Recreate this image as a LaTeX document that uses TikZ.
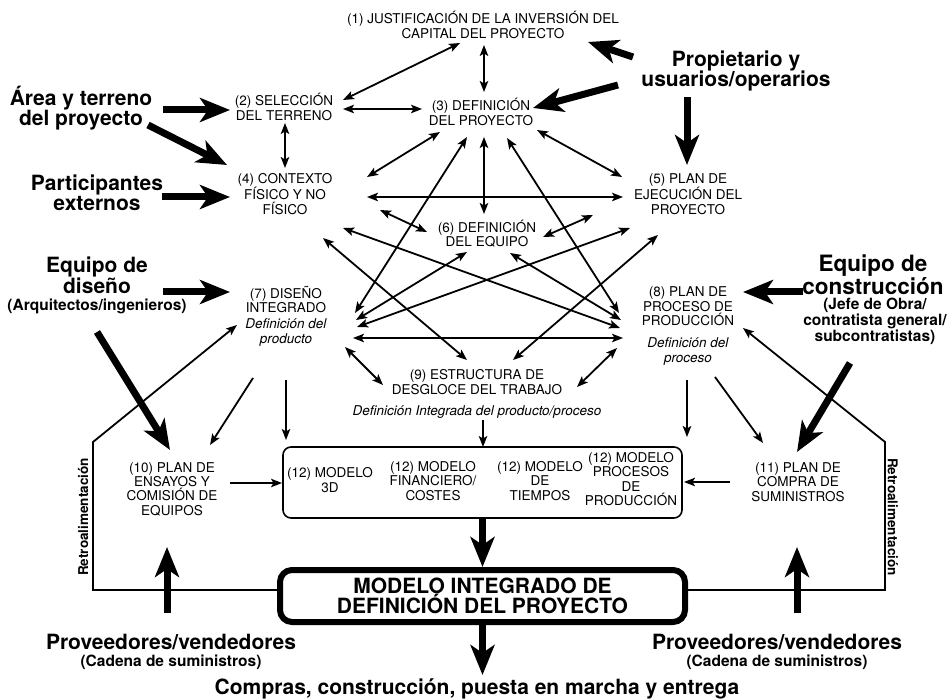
\documentclass[tikz,border=0pt]{standalone}
\usepackage{fontspec}
\setmainfont{TeX Gyre Heros}
\usetikzlibrary{arrows.meta}
\begin{document}
\begin{tikzpicture}[x=1pt,y=-1pt,
  >={Stealth[length=11pt,width=8.5pt,inset=2.5pt]},
  txt/.style={font=\fontsize{13.5}{14.3}\selectfont, align=center, inner sep=0pt},
  bigl/.style={font=\bfseries\fontsize{21}{20.5}\selectfont, align=center, inner sep=0pt},
  smalll/.style={font=\bfseries\fontsize{15.5}{15}\selectfont, align=center, inner sep=0pt},
  retro/.style={font=\bfseries\fontsize{13.5}{14}\selectfont, inner sep=0pt},
  link/.style={line width=1.8pt, <->},
  flow/.style={line width=1.8pt, ->},
  heavy/.style={line width=7pt, -{Stealth[length=30pt,width=24pt,inset=8pt]}},
]
\useasboundingbox[fill=white] (0,0) rectangle (952,700);

% ---------- boxes ----------
\node[draw, line width=1.6pt, rounded corners=8pt, minimum width=399pt, minimum height=71pt, inner sep=0pt] (box12) at (482.5,482.5) {};
\node[draw, line width=6pt, rounded corners=12pt, minimum width=405pt, minimum height=52pt, fill=white, align=center, inner sep=0pt,
      font=\bfseries\fontsize{21}{20.5}\selectfont] (mi) at (482.5,596) {MODELO INTEGRADO DE\\DEFINICIÓN DEL PROYECTO};

% ---------- process nodes ----------
\node[txt] (n1) at (483,25) {(1) JUSTIFICACIÓN DE LA INVERSIÓN DEL\\CAPITAL DEL PROYECTO};
\node[txt] (n2) at (284,107) {(2) SELECCIÓN\\DEL TERRENO};
\node[txt] (n3) at (481,112) {(3) DEFINICIÓN\\DEL PROYECTO};
\node[txt] (n4) at (285,194) {(4) CONTEXTO\\FÍSICO Y NO\\FÍSICO};
\node[txt] (n5) at (688,194) {(5) PLAN DE\\EJECUCIÓN DEL\\PROYECTO};
\node[txt] (n6) at (487,234) {(6) DEFINICIÓN\\DEL EQUIPO};
\node[txt] (n7) at (286,316) {(7) DISEÑO\\INTEGRADO\\[2pt]\textit{Definición del}\\\textit{producto}};
\node[txt] (n8) at (688,326) {(8) PLAN DE\\PROCESO DE\\PRODUCCIÓN\\[8pt]\textit{Definición del}\\\textit{proceso}};
\node[txt] (n9) at (477,394) {(9) ESTRUCTURA DE\\DESGLOCE DEL TRABAJO\\[7pt]\textit{Definición Integrada del producto/proceso}};
\node[txt] (n10) at (172,489) {(10) PLAN DE\\ENSAYOS Y\\COMISIÓN DE\\EQUIPOS};
\node[txt] (n11) at (798,482) {(11) PLAN DE\\COMPRA DE\\SUMINISTROS};
\node[txt] (m1) at (330,480) {(12) MODELO\\3D};
\node[txt] (m2) at (433,481) {(12) MODELO\\FINANCIERO/\\COSTES};
\node[txt] (m3) at (540,481) {(12) MODELO\\DE\\TIEMPOS};
\node[txt] (m4) at (631,479) {(12) MODELO\\PROCESOS\\DE\\PRODUCCIÓN};

% ---------- actors ----------
\node[bigl] (area) at (81,108) {Área y terreno\\del proyecto};
\node[bigl] (part) at (97,193) {Participantes\\externos};
\node[bigl] (prop) at (736,71) {Propietario y\\usuarios/operarios};
\node[bigl] (eqd) at (97,275.5) {Equipo de\\diseño};
\node[smalll] (eqds) at (97,306.5) {(Arquitectos/ingenieros)};
\node[bigl, font=\bfseries\fontsize{22.5}{20.5}\selectfont] (eqc) at (873,275) {Equipo de\\construcción};
\node[smalll, font=\bfseries\fontsize{15.5}{14.6}\selectfont] (eqcs) at (875,321.5) {(Jefe de Obra/\\contratista general/\\subcontratistas)};
\node[bigl] (provl) at (171,641.5) {Proveedores/vendedores};
\node[smalll] (provls) at (171,662) {(Cadena de suministros)};
\node[bigl] (provr) at (777,641.5) {Proveedores/vendedores};
\node[smalll] (provrs) at (777,662) {(Cadena de suministros)};
\node[bigl] (compras) at (477,689) {Compras, construcción, puesta en marcha y entrega};
\node[retro, rotate=90] (retl) at (83,517) {Retroalimentación};
\node[retro, rotate=-90] (retr) at (893,517) {Retroalimentación};

% ---------- connector end points ----------
\coordinate (a1s) at (460,43);  \coordinate (a1e) at (343,100);
\coordinate (a2s) at (484,45);  \coordinate (a2e) at (484,92);
\coordinate (a3s) at (343,109); \coordinate (a3e) at (422,109);
\coordinate (a4s) at (285,123); \coordinate (a4e) at (285,168);
\coordinate (a5s) at (367,177); \coordinate (a5e) at (440,132);
\coordinate (a6s) at (537,130); \coordinate (a6e) at (622,177);
\coordinate (a7s) at (367,197); \coordinate (a7e) at (623,197);
\coordinate (a8s) at (484,137); \coordinate (a8e) at (484,214);
\coordinate (a9s) at (380,210); \coordinate (a9e) at (427,232);
\coordinate (a10s) at (543,237); \coordinate (a10e) at (593,215);
\coordinate (a11s) at (467,137); \coordinate (a11e) at (355,313);
\coordinate (a12s) at (507,138); \coordinate (a12e) at (619,313);
\coordinate (a13s) at (343,228); \coordinate (a13e) at (620,328);
\coordinate (a14s) at (510,253); \coordinate (a14e) at (621,320);
\coordinate (a15s) at (467,252); \coordinate (a15e) at (356,320);
\coordinate (a16s) at (630,228); \coordinate (a16e) at (357,327);
\coordinate (a17s) at (353,338); \coordinate (a17e) at (623,338);
\coordinate (a18s) at (323,238); \coordinate (a18e) at (467,360);
\coordinate (a19s) at (658,235); \coordinate (a19e) at (513,360);
\coordinate (a20s) at (345,347); \coordinate (a20e) at (383,385);
\coordinate (a21s) at (617,348); \coordinate (a21e) at (577,387);
\coordinate (b1s) at (253,378); \coordinate (b1e) at (210,445);
\coordinate (b2s) at (286,380); \coordinate (b2e) at (286,440);
\coordinate (b3s) at (483,420); \coordinate (b3e) at (483,447);
\coordinate (b4s) at (687,380); \coordinate (b4e) at (687,437);
\coordinate (b5s) at (715,377); \coordinate (b5e) at (763,443);
\coordinate (b6s) at (230,483); \coordinate (b6e) at (282,483);
\coordinate (b7s) at (730,482); \coordinate (b7e) at (684,482);
\coordinate (rl0) at (280,590); \coordinate (rl1) at (93,590);
\coordinate (rl2) at (93,442);  \coordinate (rl3) at (237,325);
\coordinate (rr0) at (685,590); \coordinate (rr1) at (885,590);
\coordinate (rr2) at (885,442); \coordinate (rr3) at (743,328);
\coordinate (t1s) at (633,57);  \coordinate (t1e) at (588,42);
\coordinate (t2s) at (618,85);  \coordinate (t2e) at (533,108);
\coordinate (t3s) at (687,97);  \coordinate (t3e) at (687,165);
\coordinate (t4s) at (163,110); \coordinate (t4e) at (230,110);
\coordinate (t5s) at (148,125); \coordinate (t5e) at (227,165);
\coordinate (t6s) at (162,197); \coordinate (t6e) at (230,197);
\coordinate (t7s) at (163,292); \coordinate (t7e) at (230,292);
\coordinate (t8s) at (97,332);  \coordinate (t8e) at (170,450);
\coordinate (t9s) at (803,292); \coordinate (t9e) at (743,292);
\coordinate (t10s) at (850,363); \coordinate (t10e) at (797,452);
\coordinate (t11s) at (482.5,518); \coordinate (t11e) at (482.5,567);
\coordinate (t12s) at (482.5,625); \coordinate (t12e) at (482.5,675);
\coordinate (t13s) at (167,613); \coordinate (t13e) at (167,547);
\coordinate (t14s) at (797,613); \coordinate (t14e) at (797,547);

% ---------- two-way links ----------
\foreach \i in {1,...,21} \draw[link] (a\i s) -- (a\i e);

% ---------- one-way flows ----------
\foreach \i in {1,...,7} \draw[flow] (b\i s) -- (b\i e);

% ---------- feedback ----------
\draw[flow] (rl0) -- (rl1) -- (rl2) -- (rl3);
\draw[flow] (rr0) -- (rr1) -- (rr2) -- (rr3);

% ---------- heavy inputs ----------
\foreach \i in {1,...,14} \draw[heavy] (t\i s) -- (t\i e);
\end{tikzpicture}
\end{document}
